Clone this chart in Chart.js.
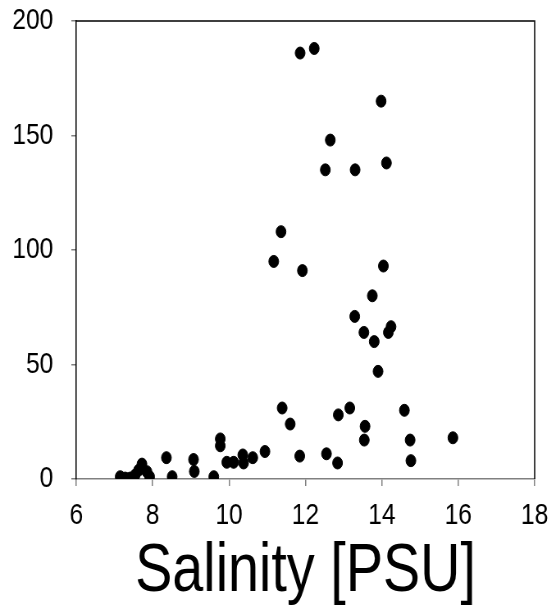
<!DOCTYPE html>
<html>
<head>
<meta charset="utf-8">
<script src="https://cdn.jsdelivr.net/npm/chart.js@4"></script>
<style>
  html, body { margin: 0; padding: 0; background: #fff; overflow: hidden; }
  #wrap { width: 552px; height: 609px; overflow: hidden; }
  /* the original figure is squeezed sideways */
  #salinityChart { transform: scaleX(0.82); transform-origin: 0 0; }
</style>
</head>
<body>
<div id="wrap"><canvas id="salinityChart" width="673" height="609"></canvas></div>
<script>
// salinity (PSU)
const salinity = [
  11.86, 12.23, 13.98, 12.65, 12.52, 13.30, 14.12, 11.36, 11.17, 11.92,
  14.04, 13.75, 13.29, 13.53, 13.80, 14.24, 14.17, 13.90, 11.39, 11.60,
  10.94, 11.85, 12.86, 13.16, 12.55, 12.84, 13.56, 13.54, 14.59, 14.74,
  14.76, 15.86, 10.62, 10.36, 10.38, 10.12, 9.94, 9.77, 9.77, 9.60,
  9.07, 9.09, 8.36, 8.51, 7.92, 7.72, 7.63, 7.85, 7.54, 7.41,
  7.28, 7.15
];
// matching y values
const counts = [
  186, 188, 165, 148, 135, 135, 138, 108, 95, 91,
  93, 80, 71, 64, 60, 66.5, 64, 47, 31, 24,
  12, 10, 28, 31, 11, 7, 23, 17, 30, 17,
  8, 18, 9.3, 10.5, 7, 7.3, 7.3, 17.5, 14.5, 1,
  8.5, 3.3, 9.3, 1, 1, 6.5, 3.8, 3.2, 1.7, 0.4,
  0.4, 1
];
const xTicks = [6, 8, 10, 12, 14, 16, 18];
const yTicks = [0, 50, 100, 150, 200];

const points = salinity.map((s, i) => ({ x: s, y: counts[i] }));

// top and right frame lines
const frame = {
  id: 'frame',
  afterDraw(chart) {
    const a = chart.chartArea;
    const c = chart.ctx;
    c.save();
    c.strokeStyle = '#000';
    c.lineWidth = 1.5;
    c.beginPath();
    c.moveTo(a.left, a.top);
    c.lineTo(a.right, a.top);
    c.lineTo(a.right, a.bottom);
    c.stroke();
    c.restore();
  }
};

const fontFam = "'Liberation Sans', Arial, sans-serif";

new Chart(document.getElementById('salinityChart'), {
  type: 'scatter',
  data: {
    datasets: [{
      data: points,
      backgroundColor: '#000',
      borderColor: '#000',
      pointRadius: 6,
      pointHoverRadius: 6
    }]
  },
  options: {
    responsive: false,
    animation: false,
    layout: { padding: { left: 15, right: 21, top: 21, bottom: 0 } },
    plugins: { legend: { display: false }, tooltip: { enabled: false } },
    scales: {
      x: {
        type: 'linear',
        min: 6, max: 18,
        afterBuildTicks: s => { s.ticks = xTicks.map(v => ({ value: v })); },
        afterFit: s => { s.height = 130; s.paddingLeft = 0; s.paddingRight = 0; },
        grid: { drawOnChartArea: false, tickLength: 7, color: '#808080', lineWidth: 1.5 },
        border: { color: '#808080', width: 1.5 },
        ticks: { color: '#000', padding: 12, maxRotation: 0, font: { family: fontFam, size: 30 } },
        title: {
          display: true,
          text: 'Salinity [PSU]',
          color: '#000',
          padding: { top: 4, bottom: 3 },
          font: { family: fontFam, size: 68, lineHeight: 1 }
        }
      },
      y: {
        type: 'linear',
        min: 0, max: 200,
        afterBuildTicks: s => { s.ticks = yTicks.map(v => ({ value: v })); },
        afterFit: s => { s.width = 78; s.paddingTop = 0; s.paddingBottom = 0; },
        grid: { drawOnChartArea: false, tickLength: 6, color: '#808080', lineWidth: 1.5 },
        border: { color: '#000', width: 1.5 },
        ticks: { color: '#000', padding: 22, font: { family: fontFam, size: 30 } }
      }
    }
  },
  plugins: [frame]
});
</script>
</body>
</html>
